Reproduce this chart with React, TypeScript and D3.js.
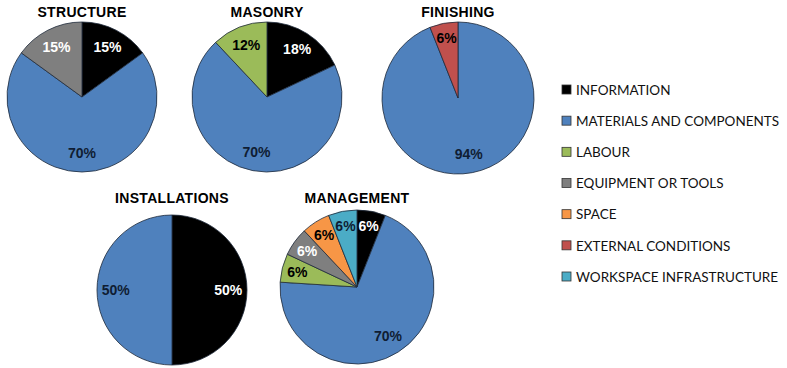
import React from "react"
import * as d3 from "d3"

const categories = [
	"INFORMATION",
	"MATERIALS AND COMPONENTS",
	"LABOUR",
	"EQUIPMENT OR TOOLS",
	"SPACE",
	"EXTERNAL CONDITIONS",
	"WORKSPACE INFRASTRUCTURE",
]
const colors = ["#000000", "#4f81bd", "#9bbb59", "#7f7f7f", "#f79646", "#c0504d", "#4bacc6"]
const labelColors = ["#ffffff", "#0f1d33", "#000000", "#ffffff", "#000000", "#000000", "#0f1d33"]

const titles = ["STRUCTURE", "MASONRY", "FINISHING", "INSTALLATIONS", "MANAGEMENT"]
const structureValues = [15, 70, 0, 15, 0, 0, 0]
const masonryValues = [18, 70, 12, 0, 0, 0, 0]
const finishingValues = [0, 94, 0, 0, 0, 6, 0]
const installationsValues = [50, 50, 0, 0, 0, 0, 0]
const managementValues = [6, 70, 6, 6, 6, 0, 6]

const allValues = [structureValues, masonryValues, finishingValues, installationsValues, managementValues]

/** pie placements */
const layout = [
	{ cx: 82, cy: 97, r: 75, titleY: 17 },
	{ cx: 267, cy: 97, r: 75, titleY: 17 },
	{ cx: 458, cy: 98, r: 76, titleY: 17 },
	{ cx: 172, cy: 290, r: 75, titleY: 203 },
	{ cx: 357, cy: 287, r: 77, titleY: 203 },
]

const Pie = ({ title, values, cx, cy, r, titleY }) => {
	const slices = d3.pie<number>().sort(null).value(d => d)(values)
	const arc = d3.arc<any>().innerRadius(0).outerRadius(r)
	const labelArc = d3.arc<any>().innerRadius(r * 0.75).outerRadius(r * 0.75)
	const smallArc = d3.arc<any>().innerRadius(r * 0.8).outerRadius(r * 0.8)
	return (
		<g>
			<text
				x={cx}
				y={titleY}
				textAnchor="middle"
				fontFamily="Liberation Sans, Arial, sans-serif"
				fontWeight="bold"
				fontSize={14}
				letterSpacing={0.3}
				fill="#000"
			>
				{title}
			</text>
			<g transform={`translate(${cx},${cy})`}>
				{slices.filter(s => s.value > 0).map(s => (
					<path key={s.index} d={arc(s)} fill={colors[s.index]} stroke="#1e2a3a" strokeWidth={0.8} />
				))}
				{slices.filter(s => s.value > 0).map(s => {
					const [lx, ly] = (s.value < 10 ? smallArc : labelArc).centroid(s)
					return (
						<text
							key={"l" + s.index}
							x={lx}
							y={ly}
							dy="0.35em"
							textAnchor="middle"
							fontFamily="Liberation Sans, Arial, sans-serif"
							fontWeight="bold"
							fontSize={14}
							fill={labelColors[s.index]}
						>
							{s.value}%
						</text>
					)
				})}
			</g>
		</g>
	)
}

export default function App() {
	const legendY = d3.scalePoint().domain(categories).range([90, 277])
	return (
		<svg width={787} height={368} style={{ position: "absolute", left: 0, top: 0, background: "#fff" }}>
			{titles.map((t, i) => (
				<Pie key={t} title={t} values={allValues[i]} {...layout[i]} />
			))}
			<g>
				{categories.map((c, i) => (
					<g key={c} transform={`translate(562,${legendY(c)})`}>
						<rect x={0} y={-5} width={9} height={9} fill={colors[i]} stroke="#333" strokeWidth={0.8} />
						<text x={14} y={0} dy="0.35em" fontFamily="Lato, Open Sans, sans-serif" fontSize={13.5} fill="#111">
							{c}
						</text>
					</g>
				))}
			</g>
		</svg>
	)
}
